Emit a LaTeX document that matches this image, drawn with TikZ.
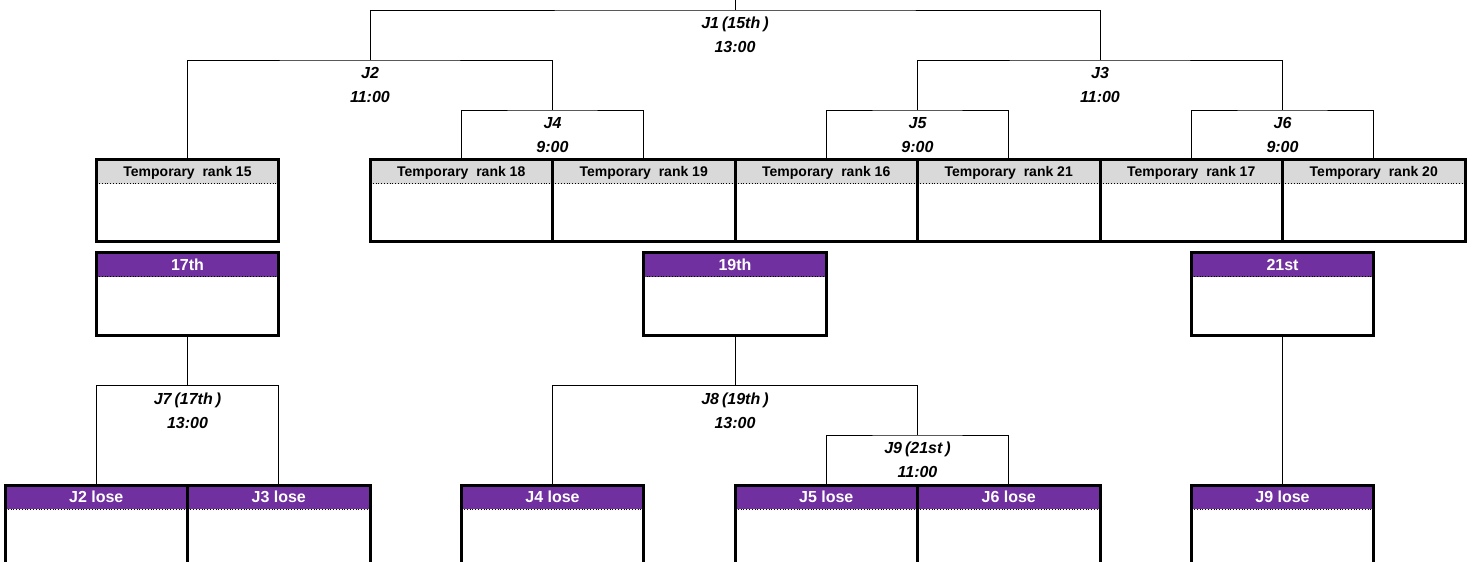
\documentclass[tikz,border=0pt]{standalone}
\usepackage{fontspec}
\setmainfont{Liberation Sans}
\usepackage{xcolor}
\usetikzlibrary{positioning}
\definecolor{hdgray}{HTML}{D9D9D9}
\definecolor{hdpurple}{HTML}{7030A0}
\newcommand{\hdband}[1]{%
	\fill[#1] (path picture bounding box.north west) rectangle ([yshift=-24pt]path picture bounding box.north east);
	\draw[dotted, line width=0.8pt] ([yshift=-24pt]path picture bounding box.north west) -- ([yshift=-24pt]path picture bounding box.north east);}
\tikzset{
	slot/.style={draw, line width=3pt, inner sep=0pt, outer sep=0pt, minimum width=182.5pt},
	hdtxt/.style={anchor=center, yshift=-12pt, inner sep=0pt, text height=10pt, text depth=0pt, font=\fontsize{14}{16}\selectfont\bfseries},
	wtxt/.style={hdtxt, text=white, text height=11.5pt, font=\fontsize{16}{18}\selectfont\bfseries},
	tmpbox/.style={slot, minimum height=82pt, path picture={\hdband{hdgray}}, label={[hdtxt]north:#1}},
	placebox/.style={slot, minimum height=82.5pt, path picture={\hdband{hdpurple}}, label={[wtxt]north:#1}},
	losebox/.style={slot, minimum height=100pt, path picture={\hdband{hdpurple}}, label={[wtxt]north:#1}},
	matchlbl/.style={align=center, inner sep=0pt, font=\fontsize{16}{24}\selectfont\bfseries\itshape},
	bar/.style={line width=1pt}
}
\begin{document}
\begin{tikzpicture}[x=1pt, y=-1pt]
	\useasboundingbox (0,0) rectangle (1475,562);
	\clip (0,0) rectangle (1475,562);
	\node[tmpbox={Temporary\ \ rank 15}] (t15) at (187.5,200.5) {};
	\node[tmpbox={Temporary\ \ rank 18}] (t18) at (461.25,200.5) {};
	\node[tmpbox={Temporary\ \ rank 19}] (t19) at (643.75,200.5) {};
	\node[tmpbox={Temporary\ \ rank 16}] (t16) at (826.25,200.5) {};
	\node[tmpbox={Temporary\ \ rank 21}] (t21) at (1008.75,200.5) {};
	\node[tmpbox={Temporary\ \ rank 17}] (t17) at (1191.25,200.5) {};
	\node[tmpbox={Temporary\ \ rank 20}] (t20) at (1373.75,200.5) {};
	\node[placebox={17th}] (p17) at (187.5,294) {};
	\node[placebox={19th}] (p19) at (735,294) {};
	\node[placebox={21st}] (p21) at (1282.5,294) {};
	\node[losebox={J2 lose}] (l2) at (96.25,535) {};
	\node[losebox={J3 lose}] (l3) at (278.75,535) {};
	\node[losebox={J4 lose}] (l4) at (552.5,535) {};
	\node[losebox={J5 lose}] (l5) at (826.25,535) {};
	\node[losebox={J6 lose}] (l6) at (1008.75,535) {};
	\node[losebox={J9 lose}] (l9) at (1282.5,535) {};
	\coordinate (top) at (735,0);
	\coordinate (m1) at (735,10);
	\coordinate (m2) at (370,60);
	\coordinate (m3) at (1100,60);
	\coordinate (m4) at (552.5,110);
	\coordinate (m5) at (917.5,110);
	\coordinate (m6) at (1282.5,110);
	\coordinate (m7) at (187.5,385.5);
	\coordinate (m8) at (735,385.5);
	\coordinate (m9) at (917.5,435);
	\draw[bar] (top) -- (m1);
	\draw[bar] (m2) |- (m1) -| (m3);
	\draw[bar] (t15.north) |- (m2) -| (m4);
	\draw[bar] (m5) |- (m3) -| (m6);
	\draw[bar] (t18.north) |- (m4) -| (t19.north);
	\draw[bar] (t16.north) |- (m5) -| (t21.north);
	\draw[bar] (t17.north) |- (m6) -| (t20.north);
	\draw[bar] (p17.south) -- (m7);
	\draw[bar] (l2.north) |- (m7) -| (l3.north);
	\draw[bar] (p19.south) -- (m8);
	\draw[bar] (l4.north) |- (m8) -| (m9);
	\draw[bar] (l5.north) |- (m9) -| (l6.north);
	\draw[bar] (p21.south) -- (l9.north);
	\node[matchlbl, below=7pt of m1] (j1) {J1\hspace{3pt}(15th\hspace{3pt})\\13:00};
	\node[matchlbl, below=7pt of m2] (j2) {J2\\11:00};
	\node[matchlbl, below=7pt of m3] (j3) {J3\\11:00};
	\node[matchlbl, below=7pt of m4] (j4) {J4\\9:00};
	\node[matchlbl, below=7pt of m5] (j5) {J5\\9:00};
	\node[matchlbl, below=7pt of m6] (j6) {J6\\9:00};
	\node[matchlbl, below=7pt of m7] (j7) {J7\hspace{3pt}(17th\hspace{3pt})\\13:00};
	\node[matchlbl, below=7pt of m8] (j8) {J8\hspace{3pt}(19th\hspace{3pt})\\13:00};
	\node[matchlbl, below=7pt of m9] (j9) {J9\hspace{3pt}(21st\hspace{3pt})\\11:00};
\end{tikzpicture}
\end{document}
